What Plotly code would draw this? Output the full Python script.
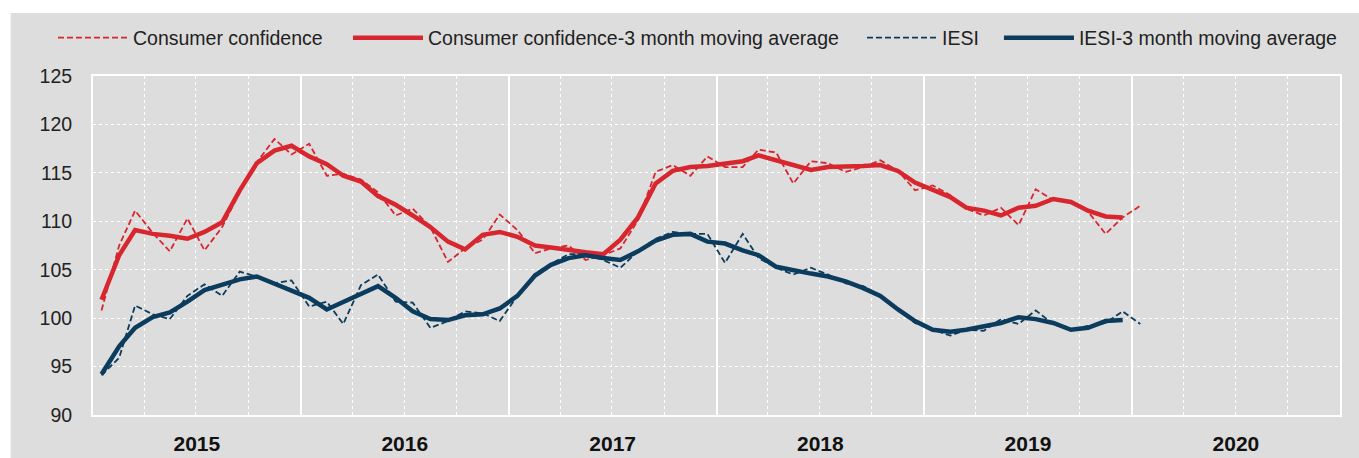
import pandas as pd
import plotly.graph_objects as go

months = pd.date_range("2015-01-01", periods=61, freq="MS") + pd.Timedelta(days=15)
months = [d.strftime("%Y-%m-%d") for d in months]

consumer_conf = [100.8, 107.5, 111.1, 108.8, 106.9, 110.3, 107.0, 109.4, 113.0, 116.1,
                 118.5, 116.9, 118.0, 114.7, 114.9, 114.3, 113.0, 110.6, 111.3, 109.4,
                 105.8, 107.2, 108.1, 110.7, 109.1, 106.7, 107.2, 107.5, 106.0, 106.5,
                 107.2, 110.1, 115.1, 115.8, 114.7, 116.7, 115.6, 115.6, 117.4, 117.1,
                 113.9, 116.2, 116.0, 115.1, 115.6, 116.3, 115.2, 113.2, 113.7, 112.7,
                 111.3, 110.6, 111.4, 109.6, 113.3, 112.2, 112.0, 111.0, 108.7, 110.4,
                 111.6]

consumer_conf_ma = [101.9, 106.5, 109.1, 108.7, 108.5, 108.2, 108.9, 109.9, 113.2, 116.0,
                    117.3, 117.8, 116.7, 115.9, 114.7, 114.1, 112.6, 111.7, 110.6, 109.4,
                    107.9, 107.1, 108.6, 108.9, 108.4, 107.5, 107.3, 107.0, 106.8, 106.6,
                    108.1, 110.4, 113.9, 115.2, 115.6, 115.7, 115.9, 116.2, 116.8, 116.3,
                    115.7, 115.3, 115.6, 115.6, 115.7, 115.8, 115.2, 114.0, 113.3, 112.5,
                    111.4, 111.1, 110.6, 111.4, 111.6, 112.3, 112.0, 111.1, 110.5, 110.4]

iesi = [94.1, 95.9, 101.3, 100.4, 99.9, 102.3, 103.5, 102.3, 104.8, 104.3,
        103.6, 103.9, 101.2, 101.7, 99.4, 103.4, 104.5, 101.7, 101.6, 99.0,
        99.7, 100.7, 100.5, 99.7, 102.3, 104.6, 105.6, 106.6, 106.6, 106.0,
        105.2, 106.9, 108.2, 108.9, 108.7, 108.7, 105.7, 108.7, 106.2, 105.2,
        104.5, 105.2, 104.5, 103.6, 103.3, 102.3, 100.9, 99.5, 98.8, 98.2,
        98.8, 98.7, 99.9, 99.4, 100.8, 99.4, 98.8, 99.2, 99.5, 100.7,
        99.4]

iesi_ma = [94.2, 97.1, 99.0, 100.1, 100.6, 101.7, 102.9, 103.5, 104.0, 104.3,
           103.6, 102.8, 102.1, 100.9, 101.7, 102.6, 103.3, 102.1, 100.7, 99.9,
           99.8, 100.3, 100.4, 101.0, 102.3, 104.4, 105.5, 106.2, 106.5, 106.2,
           106.0, 106.9, 108.0, 108.6, 108.7, 107.9, 107.7, 107.0, 106.5, 105.3,
           104.9, 104.6, 104.3, 103.8, 103.1, 102.3, 100.9, 99.7, 98.8, 98.6,
           98.8, 99.2, 99.5, 100.1, 99.9, 99.5, 98.8, 99.0, 99.7, 99.8]

series_names = ["Consumer confidence", "Consumer confidence-3 month moving average",
                "IESI", "IESI-3 month moving average"]

RED = "#d8262f"
BLUE = "#0c3c5d"
BG = "#dddddd"
FONT = "Liberation Sans, Arial, sans-serif"

fig = go.Figure()
fig.add_trace(go.Scatter(x=months, y=consumer_conf, name=series_names[0], mode="lines",
                         line=dict(color=RED, width=1.8, dash="6px,3px"), legend="legend"))
fig.add_trace(go.Scatter(x=months[:len(consumer_conf_ma)], y=consumer_conf_ma, name=series_names[1],
                         mode="lines", line=dict(color=RED, width=4.5), legend="legend2"))
fig.add_trace(go.Scatter(x=months, y=iesi, name=series_names[2], mode="lines",
                         line=dict(color=BLUE, width=1.8, dash="6px,3px"), legend="legend3"))
fig.add_trace(go.Scatter(x=months[:len(iesi_ma)], y=iesi_ma, name=series_names[3],
                         mode="lines", line=dict(color=BLUE, width=4.5), legend="legend4"))

fig.add_hline(y=100, line=dict(color="#222222", width=1.2), layer="below")


def leg(x):
    return dict(orientation="h", x=x, xanchor="left", y=1.112, yanchor="middle",
                bgcolor="rgba(0,0,0,0)", font=dict(size=19.5, family=FONT, color="#222222"),
                itemwidth=70)


fig.update_layout(
    width=1359, height=458,
    margin=dict(l=93, r=19, t=76, b=43, autoexpand=False),
    paper_bgcolor="white",
    plot_bgcolor=BG,
    font=dict(family=FONT, size=19.5, color="#222222"),
    showlegend=True,
    legend=leg(-0.0321),
    legend2=leg(0.2045),
    legend3=leg(0.6167),
    legend4=leg(0.7265),
    shapes=[dict(type="rect", xref="paper", yref="paper", x0=-0.066, x1=1.1,
                 y0=-0.2, y1=1.186, fillcolor=BG, line=dict(width=0), layer="below")],
)

fig.update_xaxes(
    type="date", range=["2015-01-01", "2021-01-01"], automargin=False,
    tick0="2015-01-01", dtick="M12", tickformat="%Y", ticklabelmode="period",
    showgrid=True, gridcolor="white", gridwidth=2,
    ticks="", ticklabelstandoff=9,
    tickfont=dict(family=FONT, size=21, color="#111111", weight="bold"),
    showline=True, linecolor="white", linewidth=2, mirror=True,
    minor=dict(dtick="M3", tick0="2015-01-01", showgrid=True, gridcolor="white",
               gridwidth=1, griddash="dot"),
    zeroline=False,
)
fig.update_yaxes(
    range=[90, 125], tick0=90, dtick=5, automargin=False,
    showgrid=True, gridcolor="white", gridwidth=1, griddash="dot",
    ticks="", ticklabelstandoff=15,
    tickfont=dict(family=FONT, size=19.5, color="#222222"),
    showline=True, linecolor="white", linewidth=2, mirror=True,
    zeroline=False,
)

fig.write_html("out.html", config={"displayModeBar": False},
               post_script="document.body.style.margin='0px';")
